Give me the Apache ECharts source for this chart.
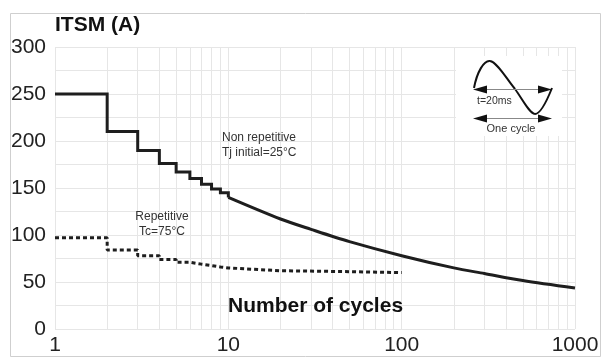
<!DOCTYPE html>
<html>
<head>
<meta charset="utf-8">
<script src="https://cdn.jsdelivr.net/npm/echarts@6/dist/echarts.min.js"></script>
<style>
html,body{margin:0;padding:0;background:#fff;}
#chart{width:610px;height:359px;}
</style>
</head>
<body>
<div id="chart"></div>
<script>
// ---- data ----
var stepCycles = [1, 2, 3, 4, 5, 6, 7, 8, 9, 10];
var nonRepStep = [250, 210, 190, 176, 167, 160, 154, 149, 145];
var curveCycles = [10, 20, 30, 50, 100, 200, 300, 500, 1000];
var nonRepCurve = [140, 117, 106, 93, 78, 65, 59, 51.5, 43.5];
var repStep = [97, 84, 78, 74, 71, 69, 67.5, 66, 65];
var repCurveCycles = [10, 20, 50, 100];
var repCurve = [64, 62, 61, 60];
var xTickLabels = [1, 10, 100, 1000];
var yTickLabels = [0, 50, 100, 150, 200, 250, 300];
var minorX = [2,3,4,5,6,7,8,9,20,30,40,50,60,70,80,90,200,300,400,500,600,700,800,900];

function stairs(xs, vs, endVal) {
  var out = [];
  for (var i = 0; i < vs.length; i++) {
    out.push([xs[i], vs[i]]);
    out.push([xs[i + 1], vs[i]]);
  }
  out.push([xs[vs.length], endVal]);
  return out;
}
function pairs(xs, vs) { return xs.map(function (x, i) { return [x, vs[i]]; }); }

var FONT = "'Liberation Sans', Arial, sans-serif";
var GRID = '#e6e6e6';
var INK = '#1e1e1e';

function bez(x1, y1, c1x, c1y, c2x, c2y, x2, y2) {
  return {type: 'bezierCurve', z: 10,
    shape: {x1: x1, y1: y1, cpx1: c1x, cpy1: c1y, cpx2: c2x, cpy2: c2y, x2: x2, y2: y2},
    style: {fill: 'none', stroke: '#111', lineWidth: 2}};
}

var chart = echarts.init(document.getElementById('chart'), null, {renderer: 'canvas'});
chart.setOption({
  animation: false,
  backgroundColor: '#fff',
  grid: {left: 55, right: 35, top: 47, bottom: 30, containLabel: false},
  xAxis: {
    type: 'log', logBase: 10, min: 1, max: 1000,
    axisLine: {show: false}, axisTick: {show: false},
    splitLine: {show: true, lineStyle: {color: GRID, width: 1}},
    axisLabel: {
      color: '#222', fontSize: 21, fontFamily: FONT, margin: 6,
      formatter: function (v) {
        var r = Math.round(v);
        return xTickLabels.indexOf(r) >= 0 ? String(r) : '';
      }
    }
  },
  yAxis: {
    type: 'value', min: 0, max: 300, interval: 50,
    axisLine: {show: false}, axisTick: {show: false},
    splitLine: {show: true, lineStyle: {color: GRID, width: 1}},
    minorTick: {show: false, splitNumber: 2},
    minorSplitLine: {show: true, lineStyle: {color: GRID, width: 1}},
    axisLabel: {
      color: '#222', fontSize: 21, fontFamily: FONT, margin: 9,
      formatter: function (v) { return yTickLabels.indexOf(v) >= 0 ? String(v) : ''; }
    }
  },
  series: [
    {
      name: 'grid-minor', type: 'line', data: [], silent: true,
      markLine: {
        silent: true, symbol: ['none', 'none'], animation: false,
        label: {show: false},
        lineStyle: {color: GRID, width: 1, type: 'solid'},
        data: minorX.map(function (x) { return {xAxis: x}; })
      }
    },
    {
      name: 'Non repetitive steps', type: 'line', showSymbol: false, symbol: 'none',
      data: stairs(stepCycles, nonRepStep, nonRepCurve[0]),
      lineStyle: {color: INK, width: 3, join: 'miter'}, z: 5
    },
    {
      name: 'Non repetitive curve', type: 'line', showSymbol: false, symbol: 'none', smooth: 0.3,
      data: pairs(curveCycles, nonRepCurve),
      lineStyle: {color: INK, width: 3}, z: 5
    },
    {
      name: 'Repetitive', type: 'line', showSymbol: false, symbol: 'none',
      data: stairs(stepCycles, repStep, repCurve[0]).concat(pairs(repCurveCycles, repCurve).slice(1)),
      lineStyle: {color: INK, width: 3, type: [4, 3]}, z: 5
    }
  ],
  graphic: [
    {type: 'rect', silent: true, z: 0, shape: {x: 10.5, y: 13.5, width: 590, height: 343},
      style: {fill: 'none', stroke: '#cfcfcf', lineWidth: 1}},
    {type: 'text', x: 55, y: 15, z: 10,
      style: {text: 'ITSM (A)', font: 'bold 21px ' + FONT, fill: '#111'}},
    {type: 'text', x: 228, y: 296, z: 10,
      style: {text: 'Number of cycles', font: 'bold 21px ' + FONT, fill: '#111'}},
    {type: 'text', x: 222, y: 130, z: 10,
      style: {text: 'Non repetitive\nTj initial=25°C', font: '12px ' + FONT, fill: '#333', lineHeight: 15}},
    {type: 'text', x: 162, y: 209, z: 10,
      style: {text: 'Repetitive\nTc=75°C', font: '12px ' + FONT, fill: '#333', lineHeight: 15, align: 'center'}},
    // inset
    {type: 'rect', silent: true, z: 8, shape: {x: 456, y: 56, width: 106, height: 80}, style: {fill: '#fff'}},
    bez(474, 88, 477, 72, 484, 60, 490, 61),
    bez(490, 61, 497, 62, 506, 78, 515, 89),
    bez(515, 89, 523, 100, 529, 113, 535, 114),
    bez(535, 114, 541, 114, 548, 98, 552, 88),
    {type: 'line', z: 10, shape: {x1: 484, y1: 89.5, x2: 541, y2: 89.5}, style: {stroke: '#888', lineWidth: 1}},
    {type: 'polygon', z: 11, shape: {points: [[473, 89.5], [487, 85.5], [487, 93.5]]}, style: {fill: '#111'}},
    {type: 'polygon', z: 11, shape: {points: [[552, 89.5], [538, 85.5], [538, 93.5]]}, style: {fill: '#111'}},
    {type: 'line', z: 10, shape: {x1: 484, y1: 118.5, x2: 541, y2: 118.5}, style: {stroke: '#888', lineWidth: 1}},
    {type: 'polygon', z: 11, shape: {points: [[473, 118.5], [487, 114.5], [487, 122.5]]}, style: {fill: '#111'}},
    {type: 'polygon', z: 11, shape: {points: [[552, 118.5], [538, 114.5], [538, 122.5]]}, style: {fill: '#111'}},
    {type: 'text', x: 477, y: 96, z: 12, style: {text: 't=20ms', font: '10.5px ' + FONT, fill: '#333'}},
    {type: 'text', x: 511, y: 123, z: 12, style: {text: 'One cycle', font: '11px ' + FONT, fill: '#333', align: 'center'}}
  ]
});
</script>
</body>
</html>
